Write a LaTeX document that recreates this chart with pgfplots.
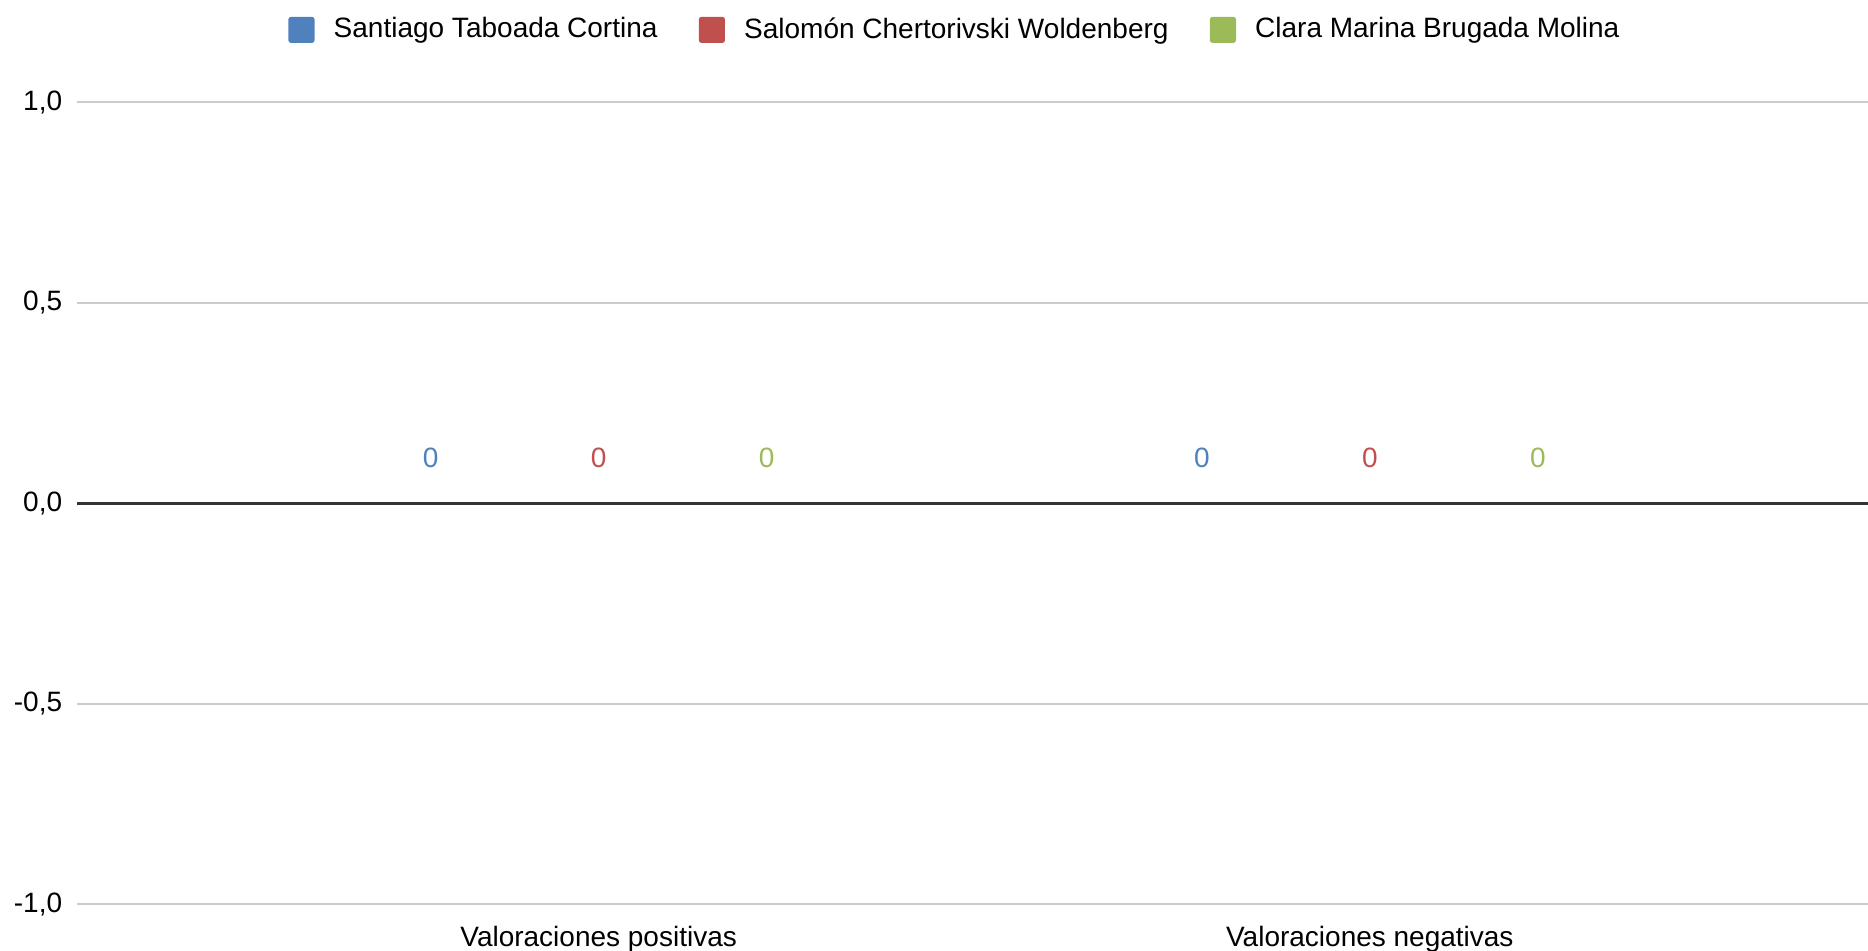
\documentclass[border=0pt]{standalone}
\usepackage{pgfplots}
\pgfplotsset{compat=1.18}
\usepackage{fontspec}
\setmainfont{Liberation Sans}
\definecolor{cblue}{HTML}{4F81BD}
\definecolor{cred}{HTML}{C0504D}
\definecolor{cgreen}{HTML}{9BBB59}
\definecolor{gridgray}{HTML}{CCCCCC}
\definecolor{zeroline}{HTML}{333333}
\begin{document}
\fontsize{10.5}{12.5}\selectfont
\begin{tikzpicture}
\begin{axis}[
  scale only axis,
  width=671.5pt, height=300.7pt,
  ybar=13pt, bar width=50pt,
  xmin=-0.676, xmax=1.646,
  ymin=-1, ymax=1,
  ytick={-1,-0.5,0,0.5,1},
  xtick=data,
  xticklabels={Valoraciones positivas, Valoraciones negativas},
  axis line style={draw=none},
  major tick length=0pt,
  ymajorgrids,
  grid style={gridgray, line width=0.75pt},
  yticklabel style={/pgf/number format/fixed, /pgf/number format/fixed zerofill, /pgf/number format/precision=1, /pgf/number format/use comma, xshift=-2pt},
  /pgf/number format/assume math mode=true,
  xticklabel style={yshift=-4.5pt},
  tick label style={font=\fontsize{10.5}{12.5}\selectfont},
  legend style={at={(rel axis cs:0.491,1)}, anchor=center, yshift=27.2pt, legend columns=3, draw=none, font=\fontsize{10.5}{12.5}\selectfont,
    /tikz/every even column/.append style={column sep=13.5pt}},
  legend image code/.code={\fill[#1, rounded corners=1pt] (0pt,-4.9pt) rectangle (9.8pt,4.9pt); \path (15pt,0pt);},
  nodes near coords,
  every node near coord/.append style={anchor=center, yshift=17pt, font=\fontsize{10.5}{12.5}\selectfont},
  clip=false,
]
\addplot[fill=cblue, draw=none, every node near coord/.append style={text=cblue}] coordinates {(0,0) (1,0)};
\addplot[fill=cred, draw=none, every node near coord/.append style={text=cred}] coordinates {(0,0) (1,0)};
\addplot[fill=cgreen, draw=none, every node near coord/.append style={text=cgreen}] coordinates {(0,0) (1,0)};
\legend{Santiago Taboada Cortina, Salomón Chertorivski Woldenberg, Clara Marina Brugada Molina}
\draw[zeroline, line width=1pt] (rel axis cs:0,0.5) -- (rel axis cs:1,0.5);
\coordinate (A) at (rel axis cs:0,1);
\coordinate (B) at (rel axis cs:1,0);
\end{axis}
\pgfresetboundingbox
\path[use as bounding box] ([shift={(-29pt,38.4pt)}]A) rectangle ([shift={(0pt,-17.5pt)}]B);
\end{tikzpicture}
\end{document}
